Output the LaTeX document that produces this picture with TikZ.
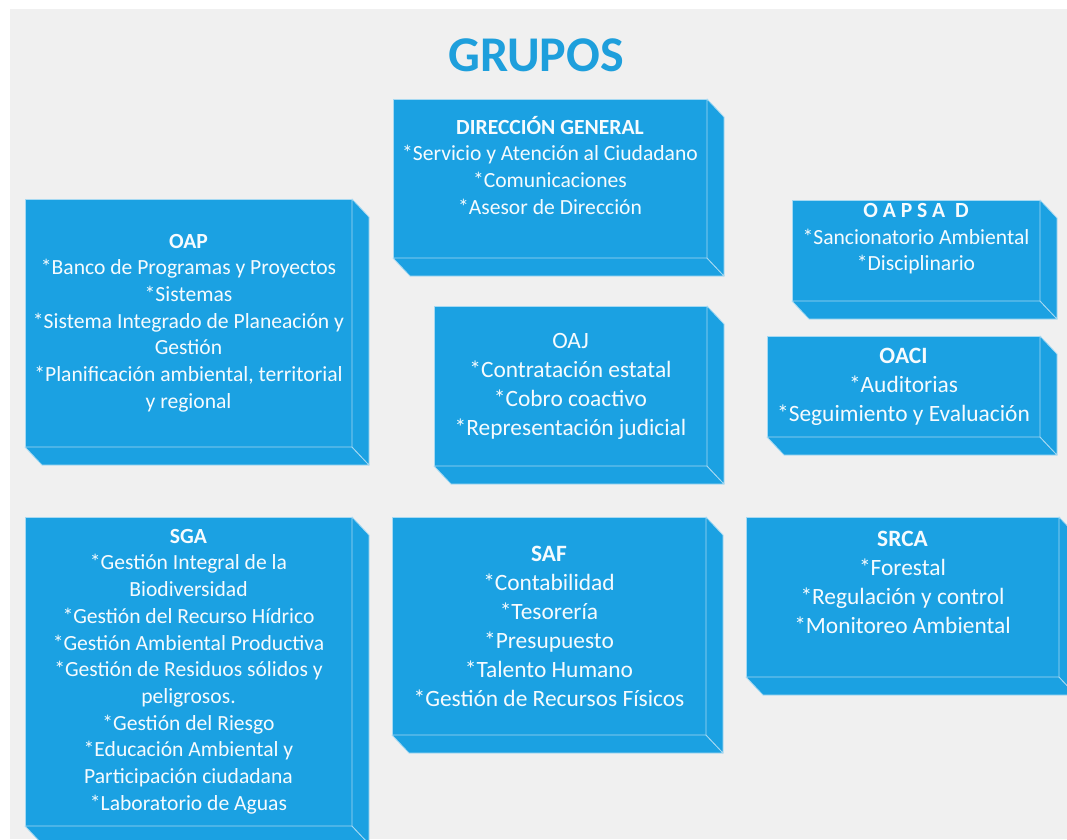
\documentclass[tikz,border=0pt]{standalone}
\usepackage{fontspec}
\setmainfont{Carlito}
\usepackage{xcolor}
\usepackage{tikz}
\definecolor{grupoblue}{HTML}{1BA1E2}
\definecolor{grupoedge}{HTML}{A6D9F2}
\definecolor{grupobg}{HTML}{F0F0F0}
\definecolor{grupotitle}{HTML}{1E9FDC}
\tikzset{
  grupo/.style={fill=grupoblue, draw=grupoedge, line width=0.8pt, outer sep=0pt,
    inner sep=0pt, text=white!96!grupoblue, align=center,
    font=\fontsize{21.6}{26.7}\selectfont},
  grupobig/.style={grupo, font=\fontsize{23.4}{29}\selectfont},
  cara/.style={fill=grupoblue, draw=grupoedge, line width=0.8pt, line join=round}
}

\begin{document}
\begin{tikzpicture}[x=1pt, y=-1pt]
  \useasboundingbox (0,0) rectangle (1067,839);
  % Background
  \fill[white] (0,0) rectangle (1067,839);
  \fill[grupobg] (10,9) rectangle (1067,839);

  % Title
  \node[font=\fontsize{50}{60}\selectfont\bfseries, text=grupotitle] (titulo) at (536,55) {GRUPOS};

  % Front faces
  \node[grupo, minimum width=314, minimum height=159] (dir) at (550,178.5)
    {\textbf{DIRECCIÓN GENERAL}\\*Servicio y Atención al Ciudadano\\*Comunicaciones\\*Asesor de Dirección\\ \mbox{}};
  \node[grupo, minimum width=327, minimum height=248] (oap) at (188.5,323)
    {\textbf{OAP}\\*Banco de Programas y Proyectos\\*Sistemas\\*Sistema Integrado de Planeación y\\Gestión\\*Planificación ambiental, territorial\\y regional};
  \node[grupo, minimum width=248, minimum height=101] (oapsad) at (916,250.5)
    {\textbf{O A P S A \ D}\\*Sancionatorio Ambiental\\*Disciplinario\\ \mbox{}};
  \node[grupobig, minimum width=273, minimum height=101] (oaci) at (903.5,386.5)
    {\textbf{OACI}\\*Auditorias\\*Seguimiento y Evaluación};
  \node[grupobig, minimum width=273, minimum height=160] (oaj) at (570.5,386)
    {OAJ\\*Contratación estatal\\*Cobro coactivo\\*Representación judicial};
  \node[grupo, minimum width=327, minimum height=309] (sga) at (188.5,671.5)
    {\textbf{SGA}\\*Gestión Integral de la\\Biodiversidad\\*Gestión del Recurso Hídrico\\*Gestión Ambiental Productiva\\*Gestión de Residuos sólidos y\\peligrosos.\\*Gestión del Riesgo\\*Educación Ambiental y\\Participación ciudadana\\*Laboratorio de Aguas};
  \node[grupobig, minimum width=314, minimum height=218] (saf) at (549,626)
    {\textbf{SAF}\\*Contabilidad\\*Tesorería\\*Presupuesto\\*Talento Humano\\*Gestión de Recursos Físicos};
  \node[grupobig, minimum width=313, minimum height=160] (srca) at (902.5,597)
    {\textbf{SRCA}\\*Forestal\\*Regulación y control\\*Monitoreo Ambiental\\ \mbox{}};

  % Depth faces
  \foreach \g in {dir,oap,oapsad,oaci,oaj,sga,saf,srca} {
    \filldraw[cara] (\g.south west) -- (\g.south east) -- ([shift={(17,18)}]\g.south east)
      -- ([shift={(17,18)}]\g.south west) -- cycle;
    \filldraw[cara] (\g.north east) -- ([shift={(17,18)}]\g.north east)
      -- ([shift={(17,18)}]\g.south east) -- (\g.south east) -- cycle;
  }
\end{tikzpicture}
\end{document}
